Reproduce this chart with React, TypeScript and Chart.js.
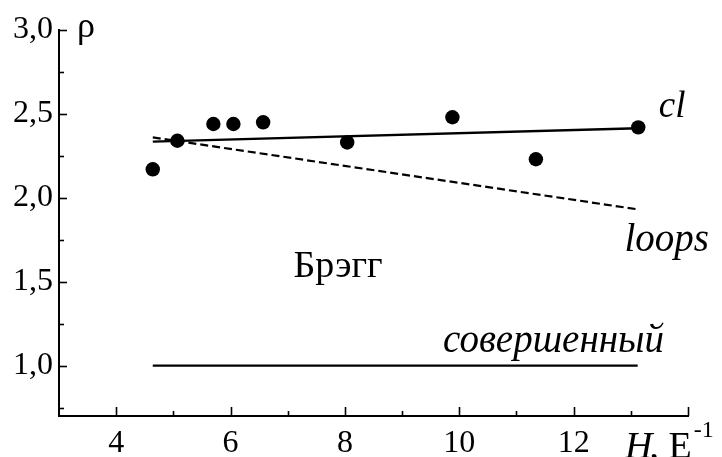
import { useEffect, useRef } from "react";
import { Chart, registerables } from "chart.js";

Chart.register(...registerables);

const FONT = '"Liberation Serif", "Times New Roman", serif';

// measured points rho(H)
const H_POINTS = [4.64, 5.07, 5.7, 6.05, 6.57, 8.04, 9.88, 11.34, 13.13];
const RHO_POINTS = [2.17, 2.34, 2.44, 2.44, 2.45, 2.33, 2.48, 2.23, 2.42];

// "cl" fit line
const CL_H = [4.64, 13.13];
const CL_RHO = [2.335, 2.415];

// "loops" dashed line
const LOOPS_H = [4.64, 13.15];
const LOOPS_RHO = [2.36, 1.93];

// "совершенный" line
const PERFECT_H = [4.64, 13.12];
const PERFECT_RHO = [1.0, 1.0];

// axes
const X_MIN = 3;
const X_MAX = 14;
const Y_MIN = 0.7;
const Y_MAX = 3.0;
const X_MAJOR = [4, 6, 8, 10, 12];
const X_MINOR = [5, 7, 9, 11, 13];
const Y_MAJOR = [1.0, 1.5, 2.0, 2.5, 3.0];
const Y_MINOR = [0.75, 1.25, 1.75, 2.25, 2.75];

const toPairs = (xs: number[], ys: number[]) => xs.map((x, i) => ({ x, y: ys[i] }));

const inwardTicks = {
  id: "inwardTicks",
  afterDraw(chart: any) {
    const { ctx, chartArea, scales } = chart;
    ctx.save();
    ctx.strokeStyle = "#000";
    ctx.lineWidth = 1.6;
    const yTick = (v: number, len: number) => {
      const y = Math.round(scales.y.getPixelForValue(v)) + 0.5;
      ctx.beginPath();
      ctx.moveTo(chartArea.left, y);
      ctx.lineTo(chartArea.left + len, y);
      ctx.stroke();
    };
    const xTick = (v: number, len: number) => {
      const x = Math.round(scales.x.getPixelForValue(v)) + 0.5;
      ctx.beginPath();
      ctx.moveTo(x, chartArea.bottom);
      ctx.lineTo(x, chartArea.bottom - len);
      ctx.stroke();
    };
    Y_MAJOR.forEach((v) => yTick(v, 8));
    Y_MINOR.forEach((v) => yTick(v, 5));
    X_MAJOR.forEach((v) => xTick(v, 9));
    X_MINOR.forEach((v) => xTick(v, 5));
    xTick(X_MAX, 9);
    ctx.restore();
  },
};

const annotations = {
  id: "annotations",
  afterDraw(chart: any) {
    const { ctx, chartArea, scales } = chart;
    const px = (v: number) => scales.x.getPixelForValue(v);
    const py = (v: number) => scales.y.getPixelForValue(v);
    ctx.save();
    ctx.fillStyle = "#000";
    ctx.textBaseline = "alphabetic";

    ctx.textAlign = "left";
    ctx.font = `italic 37px ${FONT}`;
    ctx.fillText("cl", px(13.49), py(2.481));
    ctx.font = `italic 39px ${FONT}`;
    ctx.fillText("loops", px(12.89), py(1.683));

    ctx.textAlign = "right";
    ctx.fillText("совершенный", px(13.58), py(1.084));

    ctx.textAlign = "left";
    ctx.font = `38px ${FONT}`;
    ctx.fillText("Брэгг", px(7.1), py(1.529));

    // y-axis title
    ctx.font = `36px ${FONT}`;
    ctx.fillText("ρ", chartArea.left + 18, chartArea.top + 7);

    // x-axis title
    const bx = 625;
    const by = 458;
    ctx.font = `italic 38px ${FONT}`;
    ctx.fillText("H", bx, by);
    let w = ctx.measureText("H").width;
    ctx.font = `38px ${FONT}`;
    ctx.fillText(", Е", bx + w - 3, by);
    w += ctx.measureText(", Е").width - 3;
    ctx.font = `24px ${FONT}`;
    ctx.fillText("-1", bx + w + 2, by - 21);
    ctx.restore();
  },
};

export default function App() {
  const ref = useRef<HTMLCanvasElement | null>(null);

  useEffect(() => {
    document.body.style.margin = "0";
    const canvas = ref.current;
    if (!canvas) return;
    const chart = new Chart(canvas, {
      type: "scatter",
      data: {
        datasets: [
          {
            label: "perfect",
            data: toPairs(PERFECT_H, PERFECT_RHO),
            showLine: true,
            borderColor: "#000",
            borderWidth: 2.2,
            pointRadius: 0,
          },
          {
            label: "loops",
            data: toPairs(LOOPS_H, LOOPS_RHO),
            showLine: true,
            borderColor: "#000",
            borderWidth: 2.2,
            borderDash: [8, 4],
            pointRadius: 0,
          },
          {
            label: "cl",
            data: toPairs(CL_H, CL_RHO),
            showLine: true,
            borderColor: "#000",
            borderWidth: 2.4,
            pointRadius: 0,
          },
          {
            label: "rho",
            data: toPairs(H_POINTS, RHO_POINTS),
            showLine: false,
            backgroundColor: "#000",
            borderColor: "#000",
            pointRadius: 7.2,
            borderWidth: 0,
          },
        ],
      },
      options: {
        animation: false,
        responsive: false,
        devicePixelRatio: 1,
        layout: { padding: { left: 0, right: 34, top: 30, bottom: 0 } },
        plugins: { legend: { display: false }, tooltip: { enabled: false } },
        scales: {
          x: {
            type: "linear",
            min: X_MIN,
            max: X_MAX,
            grid: { display: false, drawTicks: false },
            border: { display: true, color: "#000", width: 2 },
            afterBuildTicks: (s: any) => {
              s.ticks = X_MAJOR.map((v) => ({ value: v }));
            },
            afterFit: (s: any) => {
              s.height = 41;
            },
            ticks: {
              color: "#000",
              padding: 8,
              maxRotation: 0,
              font: { family: FONT, size: 32 },
              callback: (v: any) => String(v),
            },
          },
          y: {
            type: "linear",
            min: Y_MIN,
            max: Y_MAX,
            grid: { display: false, drawTicks: false },
            border: { display: true, color: "#000", width: 2 },
            afterBuildTicks: (s: any) => {
              s.ticks = Y_MAJOR.map((v) => ({ value: v }));
            },
            afterFit: (s: any) => {
              s.width = 59;
            },
            ticks: {
              color: "#000",
              padding: 6,
              font: { family: FONT, size: 32 },
              callback: (v: any) => Number(v).toFixed(1).replace(".", ","),
            },
          },
        },
      },
      plugins: [inwardTicks, annotations],
    });
    return () => chart.destroy();
  }, []);

  return (
    <div style={{ width: 722, height: 457, background: "#fff" }}>
      <canvas ref={ref} width={722} height={457} style={{ display: "block" }} />
    </div>
  );
}
